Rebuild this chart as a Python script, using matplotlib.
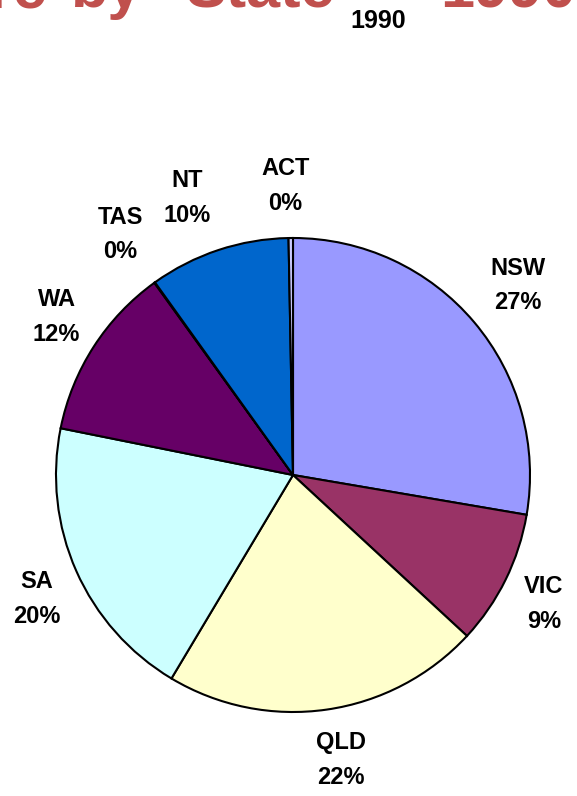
import numpy as np
import matplotlib
matplotlib.use("Agg")
import matplotlib.pyplot as plt

plt.rcParams['font.family'] = ['Liberation Sans', 'DejaVu Sans']

states = ["NSW", "VIC", "QLD", "SA", "WA", "TAS", "NT", "ACT"]
shares = [27.7, 9.2, 21.7, 19.6, 11.9, 0.05, 9.6, 0.3]
pct_labels = ["27%", "9%", "22%", "20%", "12%", "0%", "10%", "0%"]
colors = ["#9999FF", "#993366", "#FFFFCC", "#CCFFFF", "#660066", "#FF8080", "#0066CC", "#CCCCFF"]

# label placement: radial distance (pie radii) and angular nudge (degrees)
label_dist = [1.24, 1.19, 1.22, 1.2, 1.2, 1.25, 1.25, 1.22]
label_nudge = [0, -1, 1.3, 2, -1, 0, 2.6, 1]

W, H = 577, 796
cx, cy, R = 293, 475, 237

fig = plt.figure(figsize=(W/100, H/100), dpi=100)
ax = fig.add_axes([0, 0, 1, 1])
wedges, _ = ax.pie(shares, colors=colors, startangle=90, counterclock=False,
                   radius=1, wedgeprops=dict(edgecolor="black", linewidth=1.5))
ax.set_xlim(-cx/R, (W-cx)/R)
ax.set_ylim((cy-H)/R, cy/R)
ax.set_aspect('auto')
ax.axis('off')

for w, st, pl, d, n in zip(wedges, states, pct_labels, label_dist, label_nudge):
    a = np.deg2rad((w.theta1 + w.theta2)/2 + n)
    ax.text(d*np.cos(a), d*np.sin(a), f"{st}\n{pl}", ha='center', va='center',
            fontsize=17, fontweight='bold', linespacing=1.65)

# title, cut off at the top edge of the image (only the bottoms of the letters show)
red = "#C0504D"
title_kw = dict(va='baseline', fontsize=44, fontweight='bold', color=red)
base = 1 - 7/H
fig.text(47/W, base, "Share", ha='right', **title_kw)
fig.text(71/W, base, "by", ha='left', **title_kw)
fig.text(185/W, base, "State", ha='left', **title_kw)
fig.text(440/W, base, "1990", ha='left', **title_kw)
fig.text(350/W, 1 - 28/H, "1990", ha='left', va='baseline',
         fontsize=18, fontweight='bold', color='black')

fig.savefig("out.png", dpi=100)
